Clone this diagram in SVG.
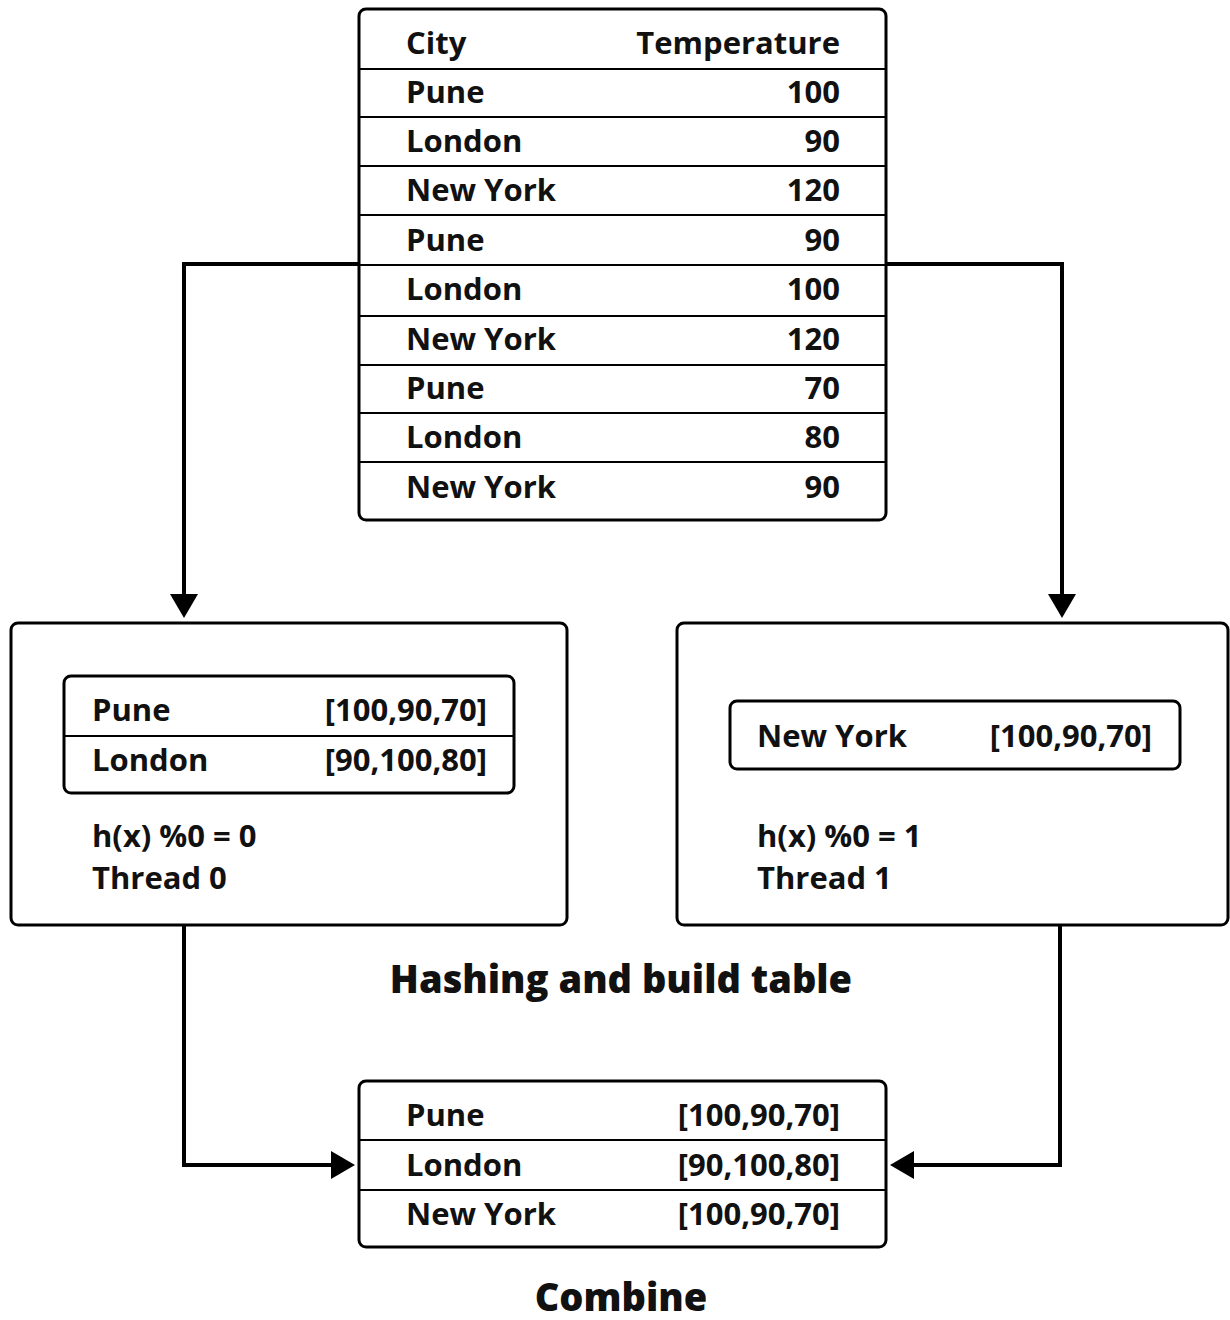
<svg xmlns="http://www.w3.org/2000/svg" width="1230" height="1320" viewBox="0 0 1230 1320">
<defs>
<marker id="arr" viewBox="0 0 24 28" refX="12" refY="14" markerWidth="24" markerHeight="28" orient="auto" markerUnits="userSpaceOnUse">
<path d="M0,0 L24,14 L0,28 z" fill="#000"/>
</marker>
<style>
text{font-family:"Open Sans","Noto Sans",sans-serif;font-weight:700;font-size:31px;fill:#111}
.r{text-anchor:end}
.title{font-size:38px;font-weight:800;text-anchor:middle}
.box{fill:#fff;stroke:#000;stroke-width:3}
.sep{stroke:#000;stroke-width:2}
.con{fill:none;stroke:#000;stroke-width:4}
</style>
</defs>
<rect width="1230" height="1320" fill="#fff"/>
<g id="connectors">
<path class="con" d="M359,264 H184 V606" marker-end="url(#arr)"/>
<path class="con" d="M886,264 H1062 V606" marker-end="url(#arr)"/>
<path class="con" d="M184,925 V1165 H343" marker-end="url(#arr)"/>
<path class="con" d="M1060,925 V1165 H902" marker-end="url(#arr)"/>
</g>
<g id="source-table">
<rect class="box" x="359" y="9" width="527" height="511" rx="7"/>
<line class="sep" x1="359" y1="69" x2="886" y2="69"/>
<line class="sep" x1="359" y1="117" x2="886" y2="117"/>
<line class="sep" x1="359" y1="166" x2="886" y2="166"/>
<line class="sep" x1="359" y1="215" x2="886" y2="215"/>
<line class="sep" x1="359" y1="265" x2="886" y2="265"/>
<line class="sep" x1="359" y1="316" x2="886" y2="316"/>
<line class="sep" x1="359" y1="365" x2="886" y2="365"/>
<line class="sep" x1="359" y1="413" x2="886" y2="413"/>
<line class="sep" x1="359" y1="462" x2="886" y2="462"/>
<text x="406" y="54">City</text><text class="r" x="840" y="54">Temperature</text>
<text x="406" y="103">Pune</text><text class="r" x="840" y="103">100</text>
<text x="406" y="152">London</text><text class="r" x="840" y="152">90</text>
<text x="406" y="201">New York</text><text class="r" x="840" y="201">120</text>
<text x="406" y="251">Pune</text><text class="r" x="840" y="251">90</text>
<text x="406" y="300">London</text><text class="r" x="840" y="300">100</text>
<text x="406" y="350">New York</text><text class="r" x="840" y="350">120</text>
<text x="406" y="399">Pune</text><text class="r" x="840" y="399">70</text>
<text x="406" y="448">London</text><text class="r" x="840" y="448">80</text>
<text x="406" y="498">New York</text><text class="r" x="840" y="498">90</text>
</g>
<g id="thread0">
<rect class="box" x="11" y="623" width="556" height="302" rx="7"/>
<rect class="box" x="64" y="676" width="450" height="117" rx="7"/>
<line class="sep" x1="64" y1="736" x2="514" y2="736"/>
<text x="92" y="721">Pune</text><text class="r" x="487" y="721">[100,90,70]</text>
<text x="92" y="771">London</text><text class="r" x="487" y="771">[90,100,80]</text>
<text x="92" y="847">h(x) %0 = 0</text>
<text x="92" y="889">Thread 0</text>
</g>
<g id="thread1">
<rect class="box" x="677" y="623" width="551" height="302" rx="7"/>
<rect class="box" x="730" y="701" width="450" height="68" rx="7"/>
<text x="757" y="747">New York</text><text class="r" x="1152" y="747">[100,90,70]</text>
<text x="757" y="847">h(x) %0 = 1</text>
<text x="757" y="889">Thread 1</text>
</g>
<g id="hash-label">
<text class="title" x="621" y="993">Hashing and build table</text>
</g>
<g id="combined-table">
<rect class="box" x="359" y="1081" width="527" height="166" rx="7"/>
<line class="sep" x1="359" y1="1140" x2="886" y2="1140"/>
<line class="sep" x1="359" y1="1190" x2="886" y2="1190"/>
<text x="406" y="1126">Pune</text><text class="r" x="840" y="1126">[100,90,70]</text>
<text x="406" y="1176">London</text><text class="r" x="840" y="1176">[90,100,80]</text>
<text x="406" y="1225">New York</text><text class="r" x="840" y="1225">[100,90,70]</text>
</g>
<g id="combine-label">
<text class="title" x="621" y="1311">Combine</text>
</g>
</svg>
